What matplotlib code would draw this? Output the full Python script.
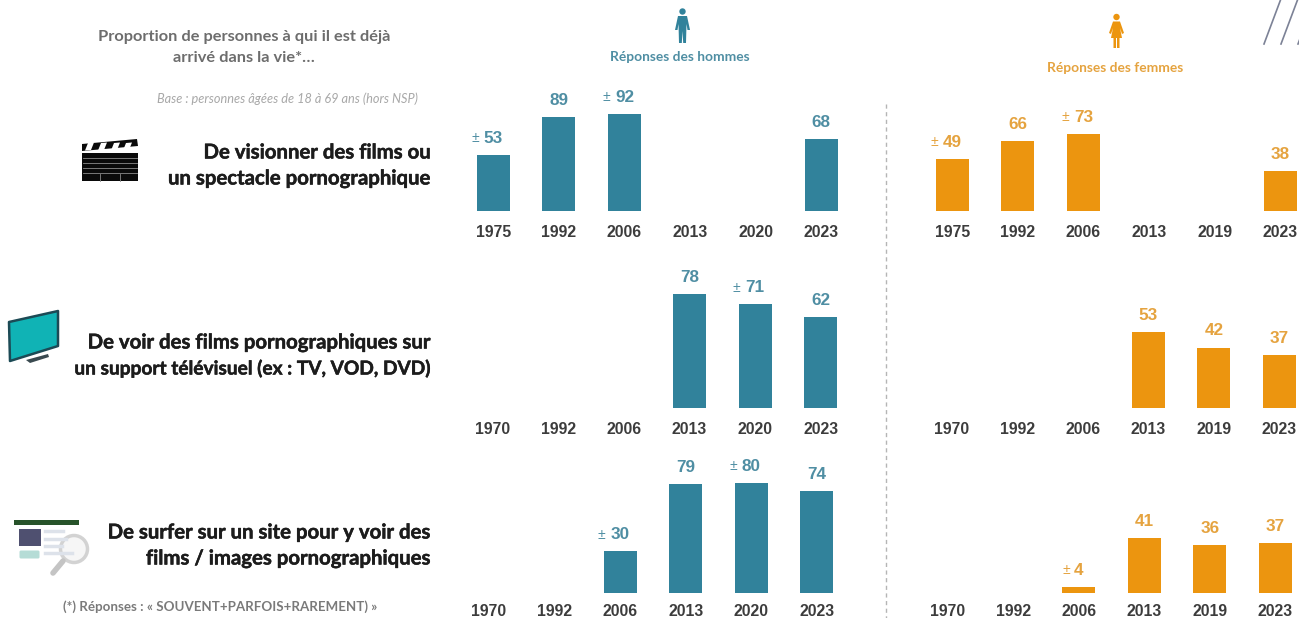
import matplotlib
matplotlib.use('Agg')
import matplotlib.pyplot as plt
import matplotlib.patheffects as pe
from matplotlib.patches import Rectangle, Polygon, Circle, FancyBboxPatch

W, H = 1299, 618
TEAL = '#31829b'
ORANGE = '#ec950f'
TEAL_TXT = '#4f8ea3'
ORANGE_TXT = '#e5a33f'

# Years on each x axis
years_m_top = ['1975', '1992', '2006', '2013', '2020', '2023']
years_m_mid = ['1970', '1992', '2006', '2013', '2020', '2023']
years_f_top = ['1975', '1992', '2006', '2013', '2019', '2023']
years_f_mid = ['1970', '1992', '2006', '2013', '2019', '2023']

# Values, None = no bar that year
men_films = [53, 89, 92, None, None, 68]
men_tv = [None, None, None, 78, 71, 62]
men_web = [None, None, 30, 79, 80, 74]
women_films = [49, 66, 73, None, None, 38]
women_tv = [None, None, None, 53, 42, 37]
women_web = [None, None, 4, 41, 36, 37]

# Which values carry a "±" in front
men_films_approx = [True, False, True, False, False, False]
men_tv_approx = [False, False, False, False, True, False]
men_web_approx = [False, False, True, False, True, False]
women_films_approx = [True, False, True, False, False, False]
women_tv_approx = [False] * 6
women_web_approx = [False, False, True, False, False, False]

STEP = 65.6


def panel(x0, base, scale, years, values, approx, color, txtcolor, pad=10.3):
    # x0 = pixel centre of the first bar, base = pixel y of baseline
    # scale = pixels per percent
    height = 100 * scale
    ax = fig.add_axes([(x0 - STEP / 2) / W, 1 - base / H, 6 * STEP / W, height / H])
    ax.patch.set_alpha(0)
    ax.set_xlim(-0.5, 5.5)
    ax.set_ylim(0, 100)
    for i, v in enumerate(values):
        if v is None:
            continue
        ax.bar(i, v, width=33 / STEP, color=color)
        ax.annotate(str(v), (i, v), xytext=(0, 6.5), textcoords='offset points',
                    ha='center', va='bottom', fontsize=12.3, fontweight='bold',
                    color=txtcolor, family='Liberation Sans', annotation_clip=False)
        if approx[i]:
            dx = -10.5 if v >= 10 else -6
            ax.annotate('±', (i, v), xytext=(dx, 7), textcoords='offset points',
                        ha='right', va='bottom', fontsize=10,
                        color=txtcolor, family='Liberation Sans', annotation_clip=False)
    ax.set_xticks(range(6))
    ax.set_xticklabels(years, fontsize=11.3, fontweight='bold', color='#3c3c3c',
                       family='Liberation Sans')
    ax.tick_params(axis='x', length=0, pad=pad)
    ax.set_yticks([])
    for s in ax.spines.values():
        s.set_visible(False)
    return ax


fig = plt.figure(figsize=(W / 100, H / 100), dpi=100)

# background layer in pixel coordinates for the texts and pictograms
bg = fig.add_axes([0, 0, 1, 1])
bg.set_xlim(0, W)
bg.set_ylim(H, 0)
bg.axis('off')

panel(493.3, 210.5, 1.05, years_m_top, men_films, men_films_approx, TEAL, TEAL_TXT)
panel(492.8, 408, 1.46, years_m_mid, men_tv, men_tv_approx, TEAL, TEAL_TXT)
panel(489, 592.5, 1.37, years_m_mid, men_web, men_web_approx, TEAL, TEAL_TXT, pad=8)
panel(952.3, 210.5, 1.05, years_f_top, women_films, women_films_approx, ORANGE, ORANGE_TXT)
panel(951.5, 408, 1.44, years_f_mid, women_tv, women_tv_approx, ORANGE, ORANGE_TXT)
panel(947.5, 592.5, 1.33, years_f_mid, women_web, women_web_approx, ORANGE, ORANGE_TXT, pad=8)

# divider
bg.plot([885.7, 885.7], [104, 618], color='#b5b5b5', lw=1, ls=(0, (3, 2.5)))

# left hand texts
thick = [pe.withStroke(linewidth=0.35, foreground='#1c1c1c')]
LBL = dict(family='Lato', fontweight='bold', color='#1c1c1c', ha='right', va='center',
           path_effects=thick)
bg.text(431, 152.5, 'De visionner des films ou', fontsize=14.65, **LBL)
bg.text(431, 178.5, 'un spectacle pornographique', fontsize=14.65, **LBL)
bg.text(431, 342.5, 'De voir des films pornographiques sur', fontsize=14.65, **LBL)
bg.text(431, 368.5, 'un support télévisuel (ex : TV, VOD, DVD)', fontsize=13.75, **LBL)
bg.text(431, 532.5, 'De surfer sur un site pour y voir des', fontsize=14.65, **LBL)
bg.text(431, 558.5, 'films / images pornographiques', fontsize=14.65, **LBL)

bg.text(244, 37, 'Proportion de personnes à qui il est déjà', family='Lato', fontweight='bold',
        color='#6d6d6d', fontsize=11.8, ha='center', va='center')
bg.text(244, 58, 'arrivé dans la vie*…', family='Lato', fontweight='bold',
        color='#6d6d6d', fontsize=11.8, ha='center', va='center')
bg.text(418, 99, 'Base : personnes âgées de 18 à 69 ans (hors NSP)', family='Lato', style='italic',
        color='#a8a8a8', fontsize=9.15, ha='right', va='center')
bg.text(220, 607, '(*) Réponses : « SOUVENT+PARFOIS+RAREMENT) »', family='Lato', fontweight='bold',
        color='#7a7a7a', fontsize=9.6, ha='center', va='center')

bg.text(679.5, 57, 'Réponses des hommes', family='Lato', fontweight='bold', color=TEAL_TXT,
        fontsize=9.95, ha='center', va='center')
bg.text(1115.5, 68, 'Réponses des femmes', family='Lato', fontweight='bold', color=ORANGE_TXT,
        fontsize=9.9, ha='center', va='center')

# man pictogram
bg.add_patch(Circle((682.5, 11.5), 3.2, color=TEAL, lw=0))
bg.add_patch(Polygon([(678, 16), (687, 16), (690, 30), (687.5, 30), (686.5, 24), (686, 43),
                      (683.2, 43), (682.5, 31), (681.8, 43), (679, 43), (678.5, 24),
                      (677.5, 30), (675, 30)], color=TEAL, lw=0))
# woman pictogram
bg.add_patch(Circle((1116.5, 17), 3.2, color=ORANGE, lw=0))
bg.add_patch(Polygon([(1113, 21.5), (1120, 21.5), (1124, 33), (1122, 34), (1120, 28), (1122, 38),
                      (1119.5, 38), (1119.5, 48), (1117, 48), (1117, 38), (1116, 38), (1116, 48),
                      (1113.5, 48), (1113.5, 38), (1111, 38), (1113, 28), (1111, 34), (1109, 33)],
                     color=ORANGE, lw=0))

# slashes, top right
for xb in [1264, 1281, 1298]:
    bg.plot([xb, xb + 16.5], [44, 0], color='#7c8296', lw=1.2, clip_on=False)

# clapperboard
bg.add_patch(Rectangle((82, 153), 56, 28, color='#0a0a0a', lw=0))
for y in [158, 163, 168, 173]:
    bg.plot([83, 137], [y, y], color='#8a8a8a', lw=0.6)
for x in [100, 120]:
    bg.plot([x, x], [174, 181], color='#8a8a8a', lw=0.6)
bg.add_patch(Polygon([(82, 144), (137, 139), (138, 146), (82, 151)], color='#0a0a0a', lw=0))
for x in [88, 101, 114, 126]:
    bg.add_patch(Polygon([(x, 143), (x + 6, 142.5), (x + 3, 150), (x - 3, 150.5)], color='white', lw=0))

# tv
bg.add_patch(Polygon([(9, 322), (58, 311), (58, 346), (10, 361)], facecolor='#10b3b5',
                     edgecolor='#1c4a55', lw=1.8, joinstyle='round'))
bg.add_patch(Polygon([(26, 360), (48, 354), (49, 357), (30, 363)], color='#3a4a50', lw=0))

# web page and magnifying glass
bg.add_patch(Rectangle((14, 520), 65, 5, color='#27532a', lw=0))
bg.add_patch(Rectangle((19, 529), 22, 17, color='#4f5070', lw=0))
bg.add_patch(FancyBboxPatch((21, 552), 17, 5, boxstyle='round,pad=1.5', color='#b5dcd6', lw=0))
for y, x1 in [(531, 63), (539, 66), (546, 62), (553, 72)]:
    bg.plot([45, x1], [y, y], color='#dde2ea', lw=2.5)
bg.plot([53, 63], [573, 561], color='#c4c4c4', lw=4, solid_capstyle='round')
bg.add_patch(Circle((74, 549), 13.5, facecolor='#f4f4f4', edgecolor='#c9c9c9', lw=2.5, alpha=0.8))

fig.savefig('out.png', dpi=100)
print("Completed")
